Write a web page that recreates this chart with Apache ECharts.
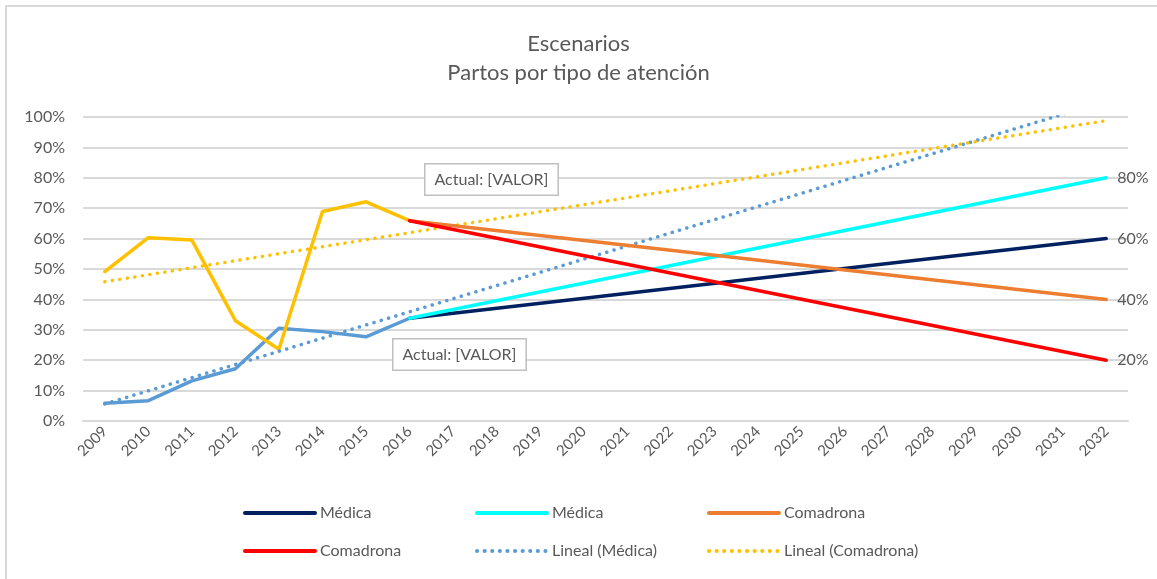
<!DOCTYPE html>
<html>
<head>
<meta charset="utf-8">
<script src="https://cdn.jsdelivr.net/npm/echarts@6/dist/echarts.min.js"></script>
<style>
  html, body { margin: 0; padding: 0; background: #fff; }
  #chart { width: 1157px; height: 579px; }
</style>
</head>
<body>
<div id="chart"></div>
<script>
var years = ['2009','2010','2011','2012','2013','2014','2015','2016','2017','2018','2019','2020',
             '2021','2022','2023','2024','2025','2026','2027','2028','2029','2030','2031','2032'];

// historico (2009-2016)
var medicaHist    = [5.8, 6.7, 13.2, 17.2, 30.5, 29.4, 27.7, 33.8];
var comadronaHist = [49.1, 60.3, 59.5, 33.0, 23.6, 68.9, 72.1, 65.9];

// escenarios: valor 2016 y valor 2032
var medicaBaja     = {start: 33.8, end: 60};
var medicaAlta     = {start: 33.8, end: 80};
var comadronaAlta  = {start: 65.9, end: 40};
var comadronaBaja  = {start: 65.9, end: 20};

// lineas de tendencia: extremos 2009 y 2032
var linealMedica    = {start: 5.6, end: 105.2};
var linealComadrona = {start: 45.8, end: 98.8};

var yTicks = [0, 10, 20, 30, 40, 50, 60, 70, 80, 90, 100];

// orden de la leyenda (2 filas x 3 columnas)
var legendNames = [['Médica', 'Médica ', 'Comadrona'],
                   ['Comadrona ', 'Lineal (Médica)', 'Lineal (Comadrona)']];

var grey = '#595959';
var font = 'Lato';

function historic(vals) {
    var d = [];
    for (var i = 0; i < years.length; i++) d.push(i < vals.length ? vals[i] : null);
    return d;
}
function scenario(s) {
    var d = [];
    for (var i = 0; i < years.length; i++) d.push(null);
    d[7] = s.start;
    d[years.length - 1] = s.end;
    return d;
}
function trend(s) {
    var d = [];
    for (var i = 0; i < years.length; i++) d.push(null);
    d[0] = s.start;
    d[years.length - 1] = s.end;
    return d;
}

function lineSeries(name, data, color, dotted, endLabel) {
    return {
        name: name,
        type: 'line',
        data: data,
        symbol: 'none',
        connectNulls: true,
        clip: true,
        lineStyle: {color: color, width: 3.5, type: dotted ? [0.1, 7.5] : 'solid', cap: 'round'},
        itemStyle: {color: color},
        endLabel: {
            show: !!endLabel, distance: 11,
            color: grey, fontSize: 16, fontFamily: font,
            formatter: function (p) { return p.value + '%'; }
        },
        emphasis: {disabled: true}
    };
}

var legends = [];
for (var r = 0; r < legendNames.length; r++) {
    for (var c = 0; c < legendNames[r].length; c++) {
        legends.push({
            data: [legendNames[r][c]],
            left: 243 + c * 232,
            top: 505 + r * 38,
            padding: 0,
            itemWidth: 70, itemHeight: 14,
            itemStyle: {color: 'transparent', borderWidth: 0},
            lineStyle: {width: 4},
            textStyle: {color: grey, fontSize: 16, fontFamily: font},
            selectedMode: false
        });
    }
}

var chart = echarts.init(document.getElementById('chart'));

var option = {
    animation: false,
    title: {
        text: 'Escenarios\nPartos por tipo de atención',
        left: 'center',
        top: 24,
        textStyle: {color: grey, fontSize: 22, fontWeight: 'normal', fontFamily: font, lineHeight: 29}
    },
    legend: legends,
    grid: {left: 83, right: 29, top: 117, bottom: 158},
    xAxis: {
        type: 'category',
        data: years,
        boundaryGap: true,
        axisLine: {lineStyle: {color: '#D9D9D9', width: 2}},
        axisTick: {show: false},
        axisLabel: {color: grey, fontSize: 15, fontFamily: font, rotate: 45, margin: 8, interval: 0}
    },
    yAxis: {
        type: 'value',
        min: yTicks[0],
        max: yTicks[yTicks.length - 1],
        interval: 10,
        axisLine: {show: false},
        axisTick: {show: false},
        axisLabel: {color: grey, fontSize: 16, fontFamily: font, margin: 18, formatter: '{value}%'},
        splitLine: {lineStyle: {color: '#D9D9D9', width: 2}}
    },
    graphic: [
        {
            type: 'rect',
            shape: {x: 6, y: 6, width: 1200, height: 620},
            style: {fill: null, stroke: '#D9D9D9', lineWidth: 2},
            silent: true
        },
        {
            type: 'text',
            left: 424, top: 163,
            style: {
                text: 'Actual: [VALOR]', fill: grey, font: '16px Lato',
                padding: [7, 9, 7, 9], backgroundColor: '#fff',
                borderColor: '#BFBFBF', borderWidth: 1.5
            },
            z: 100
        },
        {
            type: 'text',
            left: 392, top: 338,
            style: {
                text: 'Actual: [VALOR]', fill: grey, font: '16px Lato',
                padding: [7, 9, 7, 9], backgroundColor: '#fff',
                borderColor: '#BFBFBF', borderWidth: 1.5
            },
            z: 100
        }
    ],
    series: [
        lineSeries('Médica (hist)', historic(medicaHist), '#5B9BD5', false),
        lineSeries('Comadrona (hist)', historic(comadronaHist), '#FFC000', false),
        lineSeries('Lineal (Médica)', trend(linealMedica), '#5B9BD5', true),
        lineSeries('Lineal (Comadrona)', trend(linealComadrona), '#FFC000', true),
        lineSeries('Médica', scenario(medicaBaja), '#002060', false, true),
        lineSeries('Médica ', scenario(medicaAlta), '#00FFFF', false, true),
        lineSeries('Comadrona', scenario(comadronaAlta), '#ED7D31', false, true),
        lineSeries('Comadrona ', scenario(comadronaBaja), '#FF0000', false, true)
    ]
};

chart.setOption(option);
</script>
</body>
</html>
